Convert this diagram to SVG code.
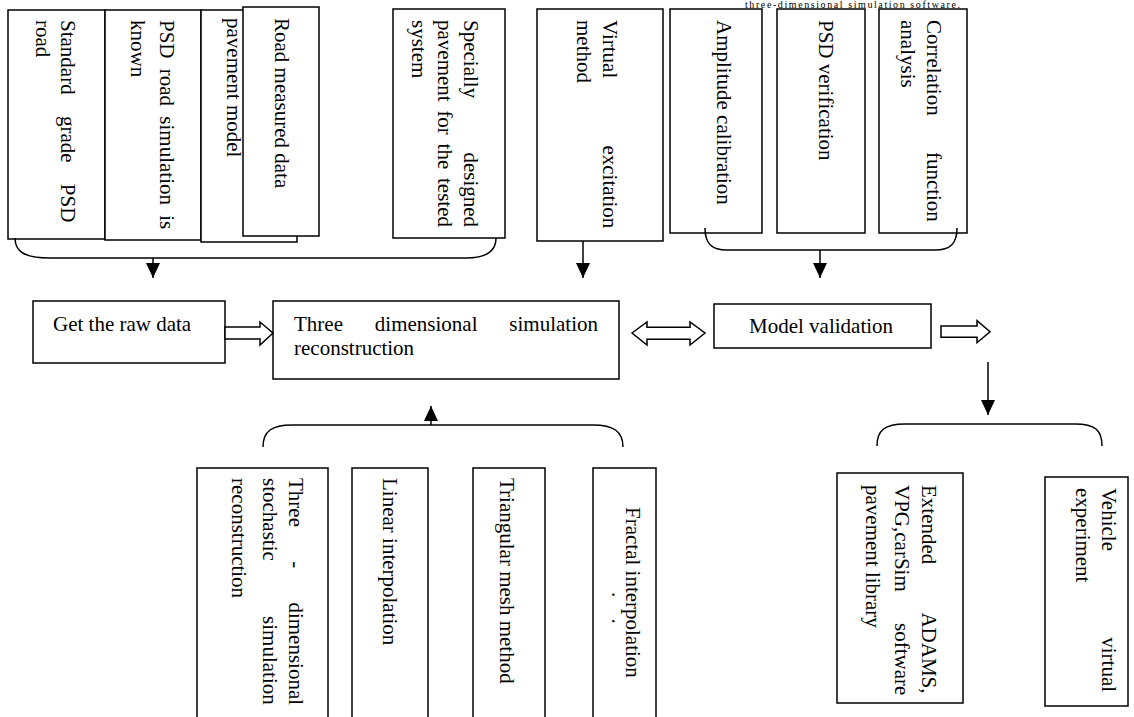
<svg xmlns="http://www.w3.org/2000/svg" width="1134" height="717" viewBox="0 0 1134 717">
<style>
.b{fill:#fff;stroke:#000;stroke-width:1.5}
.t{font-family:"Liberation Serif","Times New Roman",serif;font-size:21px;fill:#000}
.c{fill:none;stroke:#000;stroke-width:1.5}
.h{fill:#fff;stroke:#000;stroke-width:1.5;stroke-linejoin:miter}
</style>
<defs>
<marker id="ah" markerUnits="userSpaceOnUse" markerWidth="15" markerHeight="14" refX="15" refY="7" orient="auto">
<path d="M0,0 L15,7 L0,14 z" fill="#000"/>
</marker>
</defs>
<rect width="1134" height="717" fill="#fff"/>
<text class="t" x="745" y="7.5" style="font-size:10px" textLength="215" lengthAdjust="spacing">three-dimensional simulation software.</text>

<g id="n1"><rect class="b" x="8" y="10" width="97" height="229"/>
<text class="t" transform="translate(61,20) rotate(90)" word-spacing="16">Standard grade PSD</text>
<text class="t" transform="translate(36,20) rotate(90)">road</text></g>
<g id="n2"><rect class="b" x="105" y="10" width="96" height="230"/>
<text class="t" transform="translate(160,20) rotate(90)" word-spacing="5">PSD road simulation is</text>
<text class="t" transform="translate(131,20) rotate(90)">known</text></g>
<g id="n3"><rect class="b" x="201" y="10" width="96" height="232"/>
<text class="t" transform="translate(227,18) rotate(90)">pavement model</text></g>
<g id="n4"><rect class="b" x="243" y="7" width="76" height="229"/>
<text class="t" transform="translate(275,18) rotate(90)">Road measured data</text></g>
<g id="n5"><rect class="b" x="393" y="9" width="112" height="229"/>
<text class="t" transform="translate(464,20) rotate(90)" word-spacing="49">Specially designed</text>
<text class="t" transform="translate(438,20) rotate(90)" word-spacing="3.5">pavement for the tested</text>
<text class="t" transform="translate(412,20) rotate(90)">system</text></g>
<g id="n6"><rect class="b" x="537" y="9" width="126" height="232"/>
<text class="t" transform="translate(603,20) rotate(90)" word-spacing="62">Virtual excitation</text>
<text class="t" transform="translate(577,20) rotate(90)">method</text></g>
<g id="n7"><rect class="b" x="670" y="9" width="92" height="224"/>
<text class="t" transform="translate(717,20) rotate(90)">Amplitude calibration</text></g>
<g id="n8"><rect class="b" x="777" y="9" width="88" height="224"/>
<text class="t" transform="translate(819,20) rotate(90)">PSD verification</text></g>
<g id="n9"><rect class="b" x="879" y="9" width="88" height="224"/>
<text class="t" transform="translate(927,20) rotate(90)" word-spacing="31">Correlation function</text>
<text class="t" transform="translate(901,20) rotate(90)">analysis</text></g>

<g id="n10"><rect class="b" x="33" y="301" width="192" height="62"/>
<text class="t" x="53" y="331">Get the raw data</text></g>
<g id="n11"><rect class="b" x="273" y="301" width="346" height="78"/>
<text class="t" x="294" y="331" word-spacing="26.6">Three dimensional simulation</text>
<text class="t" x="294" y="355">reconstruction</text></g>
<g id="n12"><rect class="b" x="714" y="304" width="217" height="44"/>
<text class="t" x="749" y="333">Model validation</text></g>

<g id="n13"><rect class="b" x="837" y="473" width="126" height="230"/>
<text class="t" transform="translate(922,485) rotate(90)" word-spacing="44">Extended ADAMS,</text>
<text class="t" transform="translate(895,485) rotate(90)" word-spacing="26">VPG,carSim software</text>
<text class="t" transform="translate(866,485) rotate(90)">pavement library</text></g>
<g id="n14"><rect class="b" x="1045" y="477" width="83" height="229"/>
<text class="t" transform="translate(1102,488) rotate(90)" word-spacing="81">Vehicle virtual</text>
<text class="t" transform="translate(1076,488) rotate(90)">experiment</text></g>

<g id="n15"><rect class="b" x="197" y="468" width="131" height="260"/>
<text class="t" transform="translate(289,478) rotate(90)" word-spacing="29">Three - dimensional</text>
<text class="t" transform="translate(263,478) rotate(90)" word-spacing="50">stochastic simulation</text>
<text class="t" transform="translate(232,478) rotate(90)">reconstruction</text></g>
<g id="n16"><rect class="b" x="352" y="468" width="76" height="260"/>
<text class="t" transform="translate(383,478) rotate(90)">Linear interpolation</text></g>
<g id="n17"><rect class="b" x="473" y="468" width="72" height="260"/>
<text class="t" transform="translate(500,478) rotate(90)">Triangular mesh method</text></g>
<g id="n18"><rect class="b" x="593" y="468" width="63" height="260"/>
<text class="t" transform="translate(626,507) rotate(90)">Fractal interpolation</text>
<text class="t" transform="translate(612,592) rotate(90)" word-spacing="16">. .</text></g>

<g id="connectors">
<path class="c" d="M15,238 C15,252 25,258 50,258 L466,258 C486,258 496,252 496,238"/>
<line class="c" x1="153" y1="258" x2="153" y2="278" marker-end="url(#ah)"/>
<line class="c" x1="583" y1="241" x2="583" y2="278" marker-end="url(#ah)"/>
<path class="c" d="M705,228 C705,244 712,250 727,250 L935,250 C950,250 957,244 957,228"/>
<line class="c" x1="820" y1="250" x2="820" y2="278" marker-end="url(#ah)"/>
<polygon class="h" points="225,327 260,327 260,322 273,333 260,345 260,339 225,339"/>
<polygon class="h" points="632,333 647,322 647,327.3 690,327.3 690,322 705,333 690,345 690,339.3 647,339.3 647,345"/>
<polygon class="h" points="941,326 977,326 977,320.7 990,331.7 977,342.7 977,337.3 941,337.3"/>
<line class="c" x1="988" y1="362" x2="988" y2="415" marker-end="url(#ah)"/>
<path class="c" d="M877,446 C877,430 885,424 905,424 L1075,424 C1095,424 1102,430 1102,446"/>
<path class="c" d="M263,447 C263,431 272,425 292,425 L593,425 C613,425 623,431 623,447"/>
<line class="c" x1="431" y1="425" x2="431" y2="406" marker-end="url(#ah)"/>
</g>
</svg>
